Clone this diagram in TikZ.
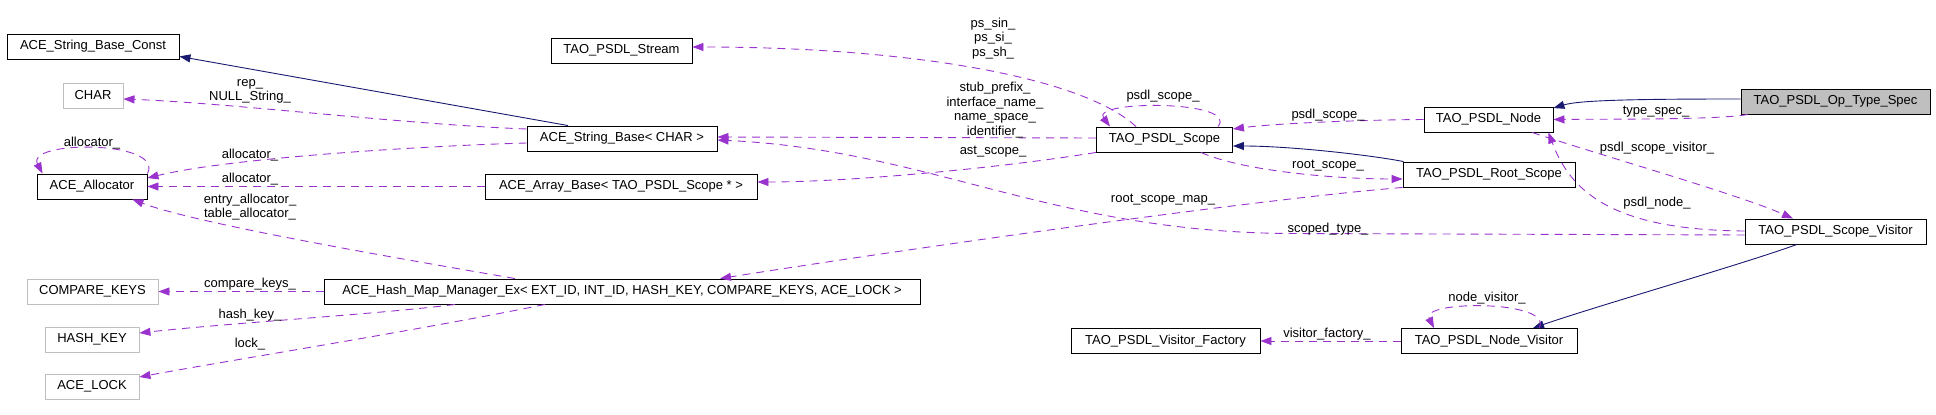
\documentclass[tikz,border=0pt]{standalone}
\usepackage{fontspec}
\setmainfont{Liberation Sans}
\usetikzlibrary{arrows.meta}
\definecolor{orch}{HTML}{9A32CD}
\definecolor{navyblue}{HTML}{191970}
\definecolor{ltgray}{HTML}{BFBFBF}
\newcommand\lab{\fontsize{13}{14.6}\selectfont}
\begin{document}
\begin{tikzpicture}[x=1pt,y=-1pt,
  cls/.style={draw=black, line width=0.9pt, minimum height=25pt, inner sep=0pt, font=\lab},
  extcls/.style={cls, draw=ltgray},
  lbl/.style={font=\lab, inner sep=0pt, align=center},
  useedge/.style={draw=orch, line width=0.9pt, dash pattern=on 8pt off 6pt, -{Triangle[length=11pt,width=8pt]}},
  inhedge/.style={draw=navyblue, line width=0.9pt, -{Triangle[length=11pt,width=8pt]}}]
\useasboundingbox (0,0) rectangle (1936,415);
% nodes
\node[cls, minimum width=172] (strconst) at (93,46.5) {ACE\_String\_Base\_Const};
\node[extcls, minimum width=60] (char) at (93,95.5) {CHAR};
\node[cls, minimum width=110] (alloc) at (92,186.5) {ACE\_Allocator};
\node[extcls, minimum width=131] (ckeys) at (92.5,291.5) {COMPARE\_KEYS};
\node[extcls, minimum width=94] (hkey) at (92,339.5) {HASH\_KEY};
\node[extcls, minimum width=94] (lock) at (92,386.5) {ACE\_LOCK};
\node[cls, minimum width=141] (stream) at (621.5,50.5) {TAO\_PSDL\_Stream};
\node[cls, minimum width=190] (strbase) at (622,138.5) {ACE\_String\_Base< CHAR >};
\node[cls, minimum width=272] (arraybase) at (621,186.5) {ACE\_Array\_Base< TAO\_PSDL\_Scope * >};
\node[cls, minimum width=596] (hashmap) at (622,291.5) {ACE\_Hash\_Map\_Manager\_Ex< EXT\_ID, INT\_ID, HASH\_KEY, COMPARE\_KEYS, ACE\_LOCK >};
\node[cls, minimum width=136] (scope) at (1164.5,139.5) {TAO\_PSDL\_Scope};
\node[cls, minimum width=189] (vfactory) at (1165.5,341) {TAO\_PSDL\_Visitor\_Factory};
\node[cls, minimum width=129] (psnode) at (1488.5,119.5) {TAO\_PSDL\_Node};
\node[cls, minimum width=172] (root) at (1489,174.5) {TAO\_PSDL\_Root\_Scope};
\node[cls, minimum width=176] (nvisitor) at (1489,341) {TAO\_PSDL\_Node\_Visitor};
\node[cls, fill=ltgray, minimum width=189] (optype) at (1835.5,101.5) {TAO\_PSDL\_Op\_Type\_Spec};
\node[cls, minimum width=181] (svisitor) at (1835.5,231.5) {TAO\_PSDL\_Scope\_Visitor};
% inheritance edges
\draw[inhedge] ([shift={(-54,0)}]strbase.north) -- ([shift={(0,-3)}]strconst.south east);
\draw[inhedge] ([shift={(1,0)}]root.north west) .. controls (1370,155) and (1290,146) .. ([shift={(0,6.5)}]scope.east);
\draw[inhedge] ([shift={(0,-2.5)}]optype.west) .. controls (1640,99) and (1580,100) .. ([shift={(0,1.5)}]psnode.north east);
\draw[inhedge] ([shift={(-38.5,0)}]svisitor.south) .. controls (1740,265) and (1600,305) .. ([shift={(44,0)}]nvisitor.north);
% usage edges
\draw[useedge] ([shift={(0,-9.5)}]strbase.west) .. controls (400,124) and (230,103) .. ([shift={(0,3.5)}]char.east);
\node[lbl] (l1) at (250,91.5) {rep\_\\NULL\_String\_};
\draw[useedge] ([shift={(0,4.5)}]strbase.west) .. controls (420,146) and (230,158) .. ([shift={(0,-8.5)}]alloc.east);
\node[lbl] (l2) at (250,155) {allocator\_};
\draw[useedge] (arraybase.west) -- (alloc.east);
\node[lbl] (l3) at (250,179) {allocator\_};
\draw[useedge] (alloc.north east) .. controls (165,140) and (25,140) .. ([shift={(6,0)}]alloc.north west);
\node[lbl] (l4) at (92,143) {allocator\_};
\draw[useedge] ([shift={(-107,0)}]hashmap.north) .. controls (420,262) and (200,225) .. ([shift={(-15,0)}]alloc.south east);
\node[lbl] (l5) at (250,207) {entry\_allocator\_\\table\_allocator\_};
\draw[useedge] (hashmap.west) -- (ckeys.east);
\node[lbl] (l6) at (250,284) {compare\_keys\_};
\draw[useedge] ([shift={(-167,0)}]hashmap.south) .. controls (380,314) and (230,323) .. ([shift={(0,-6.5)}]hkey.east);
\node[lbl] (l7) at (250,315) {hash\_key\_};
\draw[useedge] ([shift={(-77,0)}]hashmap.south) .. controls (420,330) and (220,362) .. ([shift={(0,-9.5)}]lock.east);
\node[lbl] (l8) at (250,344) {lock\_};
\draw[useedge] ([shift={(-28.5,0)}]scope.north) .. controls (1080,75) and (900,47) .. ([shift={(0,-3.5)}]stream.east);
\node[lbl] (l9) at (993,38.5) {ps\_sin\_\\ps\_si\_\\ps\_sh\_};
\draw[useedge] ([shift={(0,-1.5)}]scope.west) -- ([shift={(0,-1.5)}]strbase.east);
\node[lbl] (l10) at (995,110) {stub\_prefix\_\\interface\_name\_\\name\_space\_\\identifier\_};
\draw[useedge] (scope.south west) .. controls (1000,168) and (850,182) .. ([shift={(0,-4.5)}]arraybase.east);
\node[lbl] (l11) at (993,152) {ast\_scope\_};
\draw[useedge] ([shift={(53.5,0)}]scope.north) .. controls (1240,100) and (1090,100) .. ([shift={(-54.5,0)}]scope.north);
\node[lbl] (l12) at (1163,96) {psdl\_scope\_};
\draw[useedge] (psnode.west) .. controls (1350,120) and (1270,124) .. ([shift={(0,-10.5)}]scope.east);
\node[lbl] (l13) at (1328,115) {psdl\_scope\_};
\draw[useedge] ([shift={(36.5,0)}]scope.south) .. controls (1240,170) and (1330,179) .. ([shift={(0,4.5)}]root.west);
\node[lbl] (l14) at (1328,166) {root\_scope\_};
\draw[useedge] (root.south west) .. controls (1250,200) and (900,250) .. ([shift={(98,0)}]hashmap.north);
\node[lbl] (l15) at (1163,200) {root\_scope\_map\_};
\draw[useedge] ([shift={(0,3.5)}]svisitor.west) -- (1290,233.5) .. controls (1050,232) and (930,150) .. ([shift={(0,1.5)}]strbase.east);
\node[lbl] (l16) at (1328,229) {scoped\_type\_};
\draw[useedge] ([shift={(7,0)}]optype.south west) .. controls (1720,120) and (1600,119) .. (psnode.east);
\node[lbl] (l17) at (1656,112) {type\_spec\_};
\draw[useedge] ([shift={(43.5,0)}]psnode.south) .. controls (1600,155) and (1740,195) .. ([shift={(-42.5,0)}]svisitor.north);
\node[lbl] (l18) at (1657,148) {psdl\_scope\_visitor\_};
\draw[useedge] ([shift={(0,-0.5)}]svisitor.west) .. controls (1610,230) and (1570,190) .. ([shift={(-5,0)}]psnode.south east);
\node[lbl] (l19) at (1657,203) {psdl\_node\_};
\draw[useedge] ([shift={(50,0)}]nvisitor.north) .. controls (1555,300) and (1420,300) .. ([shift={(-55,0)}]nvisitor.north);
\node[lbl] (l20) at (1487,298) {node\_visitor\_};
\draw[useedge] (nvisitor.west) -- (vfactory.east);
\node[lbl] (l21) at (1327,334) {visitor\_factory\_};
\end{tikzpicture}
\end{document}
